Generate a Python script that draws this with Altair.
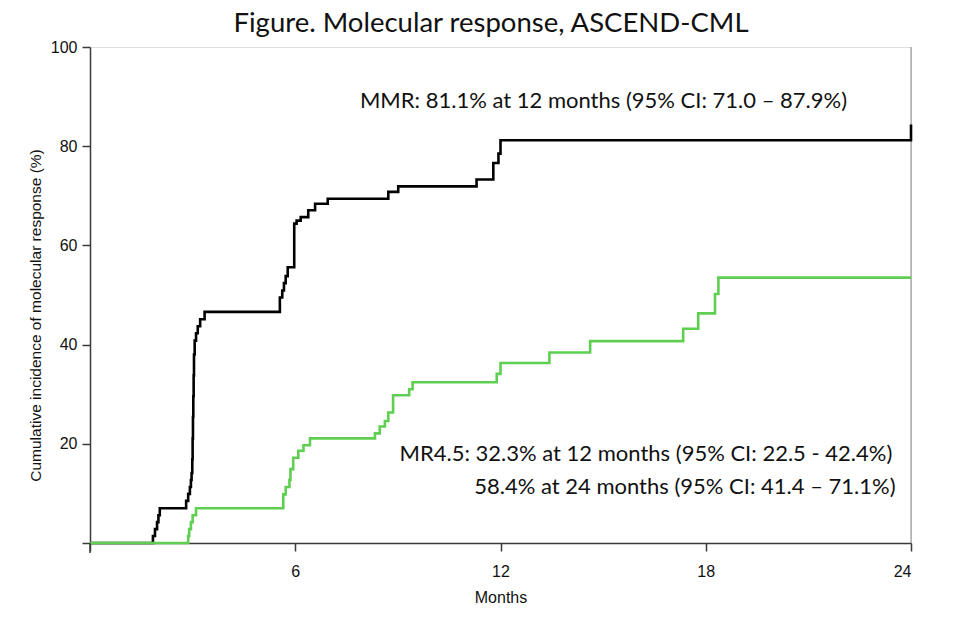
import altair as alt
import pandas as pd

# ---- data ----
mmr_months = [0, 1.84, 1.90, 1.96, 2.00, 2.04, 2.81, 2.87, 2.92, 2.95, 2.97, 2.99, 3.00,
              3.01, 3.02, 3.03, 3.04, 3.06, 3.10, 3.15, 3.22, 3.35, 5.55, 5.62, 5.67,
              5.72, 5.78, 5.97, 6.04, 6.16, 6.38, 6.58, 6.95, 8.72, 9.01, 11.30, 11.79,
              11.94, 12.00, 24.0, 24.0]
mmr_pct = [0, 1.4, 2.8, 4.2, 5.6, 7.0, 8.5, 9.9, 11.3, 12.7, 14.1, 16.9, 21.1,
           25.4, 29.6, 33.8, 38.0, 40.8, 42.3, 43.7, 45.1, 46.6, 49.5, 50.9, 52.4,
           53.8, 55.6, 64.4, 65.0, 65.7, 67.1, 68.4, 69.4, 70.8, 71.9, 73.3, 76.6,
           78.5, 81.2, 81.2, 84.4]

mr45_months = [0, 2.87, 2.90, 2.95, 3.00, 3.10, 5.65, 5.72, 5.83, 5.86, 5.94, 6.09,
               6.24, 6.43, 8.33, 8.47, 8.62, 8.72, 8.86, 9.33, 9.43, 11.89, 12.00,
               13.43, 14.62, 17.34, 17.78, 18.27, 18.37, 24.0]
mr45_pct = [0, 1.4, 2.8, 4.2, 5.6, 7.0, 9.8, 11.3, 12.7, 14.9, 17.2, 18.6,
            19.7, 21.1, 22.1, 23.5, 24.6, 26.3, 29.8, 31.0, 32.4, 34.1, 36.3,
            38.4, 40.7, 43.2, 46.3, 50.2, 53.5, 53.5]

x_ticks = [0, 6, 12, 18, 24]
y_ticks = [0, 20, 40, 60, 80, 100]

title_text = "Figure. Molecular response, ASCEND-CML"
x_title = "Months"
y_title = "Cumulative incidence of molecular response (%)"

note_texts = [
    "MMR: 81.1% at 12 months (95% CI: 71.0 \u2013 87.9%)",
    "MR4.5: 32.3% at 12 months (95% CI: 22.5 - 42.4%)",
    "58.4% at 24 months (95% CI: 41.4 \u2013 71.1%)",
]
note_months = [15.01, 16.25, 17.39]
note_pct = [89.1, 18.0, 11.3]

# ---- tables ----
mmr = pd.DataFrame({"month": mmr_months, "pct": mmr_pct, "idx": list(range(len(mmr_months)))})
mr45 = pd.DataFrame({"month": mr45_months, "pct": mr45_pct, "idx": list(range(len(mr45_months)))})
notes = pd.DataFrame({"month": note_months, "pct": note_pct, "label": note_texts})
edge = pd.DataFrame({"month": [24], "pct": [0], "pct2": [100]})

AX_FONT = "Liberation Sans, Arial, sans-serif"
TXT_FONT = "Lato, Open Sans, sans-serif"

xs = alt.Scale(domain=[0, 24], nice=False, zero=False)
ys = alt.Scale(domain=[0, 100], nice=False, zero=False)

x_axis = alt.Axis(values=x_ticks, labelExpr="datum.value == 0 ? '' : datum.label",
                  title=x_title, grid=False, tickSize=8, labelPadding=12,
                  labelFontSize=16, titleFontSize=16, labelFont=AX_FONT, titleFont=AX_FONT,
                  titleFontWeight="normal", titleBaseline="middle", titleY=54,
                  domainColor="#3a3a3a", tickColor="#3a3a3a", domainWidth=1.5, tickWidth=1.5,
                  labelColor="#111111", titleColor="#111111")
y_axis = alt.Axis(values=y_ticks, labelExpr="datum.value == 0 ? '' : datum.label",
                  title=y_title, grid=False, tickSize=8, labelPadding=5,
                  labelFontSize=16, titleFontSize=15.5, labelFont=AX_FONT, titleFont=AX_FONT,
                  titleFontWeight="normal", titleAngle=270, titleX=-55, titleY=268,
                  titleAlign="center", titleBaseline="middle",
                  domainColor="#3a3a3a", tickColor="#3a3a3a", domainWidth=1.5, tickWidth=1.5,
                  labelColor="#111111", titleColor="#111111")

def X(field="month"):
    return alt.X(f"{field}:Q", scale=xs, axis=x_axis)

def Y(field="pct"):
    return alt.Y(f"{field}:Q", scale=ys, axis=y_axis)

edge_rule = alt.Chart(edge).mark_rule(color="#8a8a8a", strokeWidth=1).encode(
    x=X(), y=Y(), y2="pct2:Q")

black = alt.Chart(mmr).mark_line(interpolate="step-after", color="#000000", strokeWidth=2.6).encode(
    x=X(), y=Y(), order="idx:Q")
green = alt.Chart(mr45).mark_line(interpolate="step-after", color="#5fcf52", strokeWidth=2.6).encode(
    x=X(), y=Y(), order="idx:Q")

note_layer = alt.Chart(notes).mark_text(font=TXT_FONT, fontSize=22, color="#111111",
                                        align="center", baseline="middle").encode(
    x=X(), y=Y(), text="label:N")

title_layer = alt.Chart(pd.DataFrame({"t": [title_text]})).mark_text(
    font=TXT_FONT, fontSize=27.5, color="#111111", align="center", baseline="alphabetic").encode(
    x=alt.value(401), y=alt.value(-15), text="t:N")

axis_ext = alt.Chart(pd.DataFrame({"k": [0]})).mark_rule(color="#3a3a3a", strokeWidth=1.5).encode(
    x=alt.value(0), y=alt.value(496), y2=alt.value(506))

chart = alt.layer(edge_rule, black, green, note_layer, title_layer, axis_ext).properties(
    width=821, height=496,
    autosize=alt.AutoSizeParams(type="none"),
    padding={"left": 82, "top": 39, "right": 30, "bottom": 70},
).configure_view(stroke=None).configure(background="white")

chart.save("out.html", embed_options={"renderer": "svg", "actions": False})
